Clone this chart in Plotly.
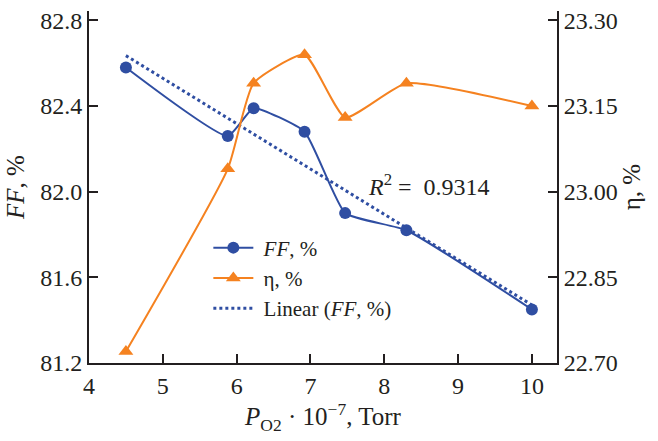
import numpy as np
import plotly.graph_objects as go

p_o2 = [4.5, 5.88, 6.23, 6.92, 7.47, 8.30, 10.0]
ff = [82.58, 82.26, 82.39, 82.28, 81.90, 81.82, 81.45]
eta = [22.72, 23.04, 23.19, 23.24, 23.13, 23.19, 23.15]
r2_text = "0.9314"
x_ticks = [4, 5, 6, 7, 8, 9, 10]
ff_ticks = [81.2, 81.6, 82.0, 82.4, 82.8]
eta_ticks = [22.70, 22.85, 23.00, 23.15, 23.30]

BLUE = "#2f4ea2"
ORANGE = "#f58220"
AX = "#231f20"
FONT = "Liberation Serif, Times New Roman, serif"

coef = np.polyfit(p_o2, ff, 1)
fit_x = [p_o2[0], p_o2[-1]]
fit_y = [float(np.polyval(coef, v)) for v in fit_x]

fig = go.Figure()
fig.add_trace(go.Scatter(x=p_o2, y=ff, name=" <i>FF</i>, %", mode="lines+markers",
                         line=dict(color=BLUE, width=2, shape="spline", smoothing=0.45),
                         marker=dict(symbol="circle", size=12, color=BLUE)))
fig.add_trace(go.Scatter(x=p_o2, y=eta, name=" η, %", mode="lines+markers", yaxis="y2",
                         line=dict(color=ORANGE, width=2, shape="spline", smoothing=0.5),
                         marker=dict(symbol="triangle-up", size=13, color=ORANGE)))
fig.add_trace(go.Scatter(x=fit_x, y=fit_y, name=" Linear (<i>FF</i>, %)", mode="lines",
                         line=dict(color=BLUE, width=3, dash="dot")))

axis_common = dict(showgrid=False, zeroline=False, showline=True, linecolor=AX, linewidth=2,
                   ticks="inside", ticklen=9, tickwidth=1.5, tickcolor=AX,
                   tickfont=dict(family=FONT, size=24, color=AX))

fig.update_layout(
    width=658, height=441,
    margin=dict(l=89, r=101, t=8, b=78),
    plot_bgcolor="white", paper_bgcolor="white",
    font=dict(family=FONT, size=22, color=AX),
    xaxis=dict(range=[4, 10.34], tickvals=x_ticks, **axis_common,
               title=dict(text="<i>P</i><sub>O2</sub> · 10<sup>−7</sup>, Torr",
                          font=dict(family=FONT, size=25, color=AX), standoff=6)),
    yaxis=dict(range=[81.2, 82.844], tickvals=ff_ticks, tickformat=".1f", **axis_common,
               title=dict(text="<i>FF</i>, %", font=dict(family=FONT, size=25, color=AX), standoff=8)),
    yaxis2=dict(range=[22.70, 23.3165], tickvals=eta_ticks, tickformat=".2f", overlaying="y",
                side="right", **axis_common,
                title=dict(text="η, %", font=dict(family=FONT, size=25, color=AX), standoff=2)),
    legend=dict(x=0.255, y=0.385, xanchor="left", yanchor="top", bgcolor="rgba(0,0,0,0)",
                font=dict(family=FONT, size=21, color=AX), tracegroupgap=0, itemwidth=40),
    showlegend=True,
)
fig.add_annotation(x=8.61, y=82.03, xref="x", yref="y",
                   text="<i>R</i><sup>2</sup> =  " + r2_text, showarrow=False,
                   font=dict(family=FONT, size=24, color=AX), xanchor="center", yanchor="middle")

fig.write_html("out.html")
